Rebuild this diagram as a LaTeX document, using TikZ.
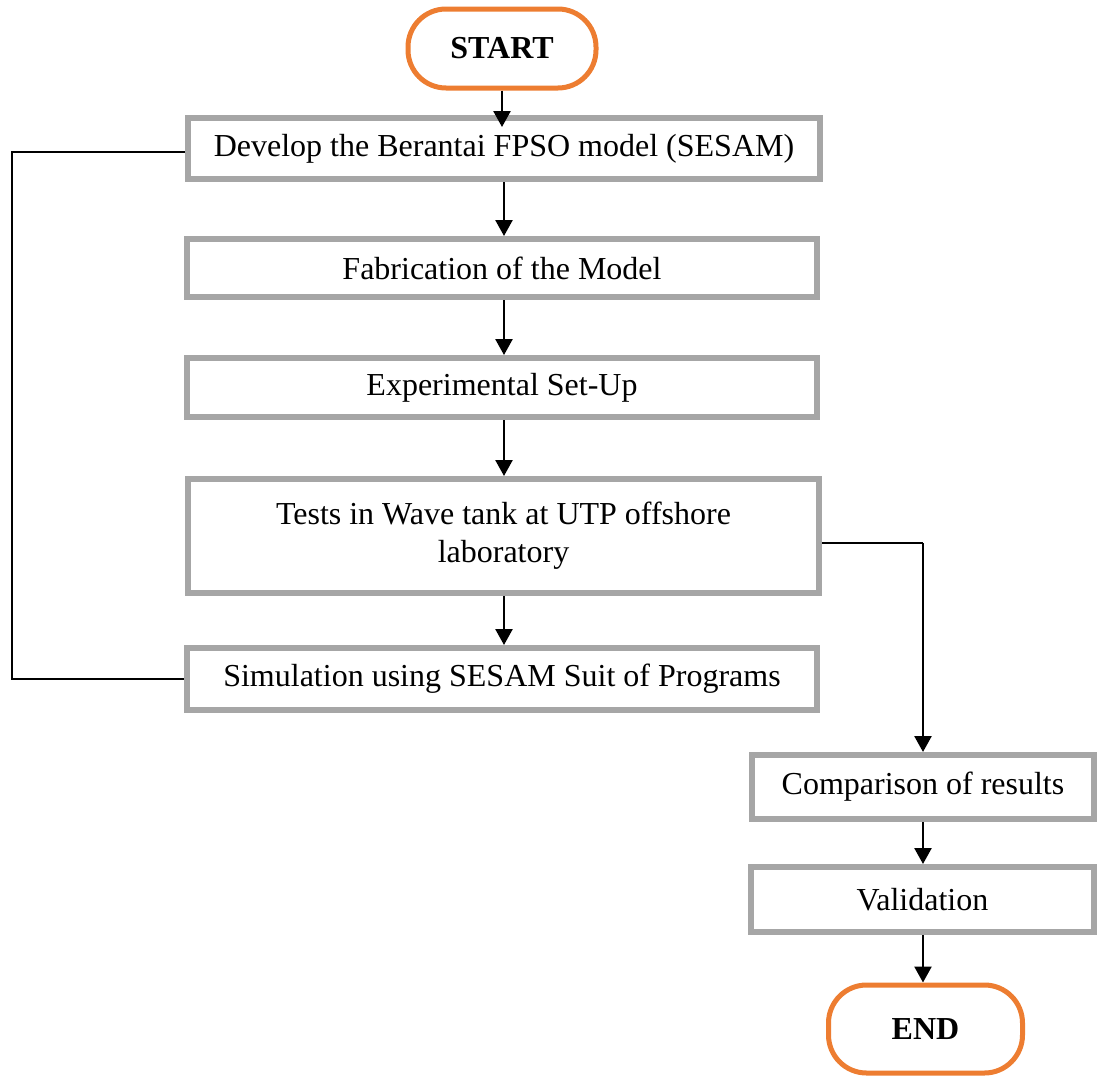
\documentclass[tikz,border=0pt]{standalone}
\usepackage{fontspec}
\setmainfont{Liberation Serif}
\usetikzlibrary{arrows.meta}
\definecolor{termorange}{HTML}{ED7D31}
\definecolor{boxgray}{HTML}{A6A6A6}
\begin{document}
\begin{tikzpicture}[x=0.5pt,y=-0.5pt,
  every node/.style={font=\fontsize{16pt}{19pt}\selectfont, align=center, inner sep=0pt},
  procbox/.style={draw=boxgray, line width=3pt, fill=white, rectangle},
  terminal/.style={draw=termorange, line width=2.5pt, fill=white, rectangle,
    rounded corners=19pt, font=\fontsize{16pt}{19pt}\selectfont\bfseries},
  flow/.style={draw=black, line width=1.25pt, -{Triangle[width=8.5pt,length=8pt]}},
  link/.style={draw=black, line width=0.75pt}]
\useasboundingbox (0,0) rectangle (1098,1076);

% main column
\node[terminal, minimum width=94pt, minimum height=39.5pt] (start) at (502,48.5) {START};
\node[procbox, minimum width=316pt, minimum height=30.5pt] (b1) at (504,148.5)
  {Develop the Berantai FPSO model (SESAM)};
\node[procbox, minimum width=315pt, minimum height=29pt] (b2) at (502,268)
  {Fabrication of the Model};
\node[procbox, minimum width=315pt, minimum height=29.5pt] (b3) at (502,387.5)
  {Experimental Set-Up};
\node[procbox, minimum width=315.5pt, minimum height=57pt] (b4) at (503.5,536)
  {Tests in Wave tank at UTP offshore\\laboratory};
\node[procbox, minimum width=315pt, minimum height=31pt] (b5) at (502,679)
  {Simulation using SESAM Suit of Programs};

% right column
\node[procbox, minimum width=171pt, minimum height=32pt] (b6) at (923,787)
  {Comparison of results};
\node[procbox, minimum width=171.5pt, minimum height=32.5pt] (b7) at (922.5,899.5)
  {Validation};
\node[terminal, minimum width=97pt, minimum height=44pt] (end) at (925.5,1029) {END};

% vertical flow
\draw[flow, shorten >=-6pt] (start.south) -- (start.south |- b1.north);
\draw[flow] (b1.south) -- (b1.south |- b2.north);
\draw[flow] (b1.south |- b2.south) -- (b1.south |- b3.north);
\draw[flow] (b1.south |- b3.south) -- (b1.south |- b4.north);
\draw[flow] (b1.south |- b4.south) -- (b1.south |- b5.north);

% branch to comparison
\coordinate (turn) at ([yshift=-3.5pt]b4.east -| b6.north);
\draw[link] ([yshift=-3.5pt]b4.east) -- (turn);
\draw[flow] (turn) -- (b6.north);
\draw[flow] (b6.south) -- (b6.south |- b7.north);
\draw[flow] (b6.south |- b7.south) -- (b6.south |- end.north);

% feedback loop on the left
\coordinate (loopTop) at (12,152);
\coordinate (loopBot) at (12,679);
\draw[link] ([yshift=-1.75pt]b1.west) -- (loopTop) -- (loopBot) -- (b5.west);
\end{tikzpicture}
\end{document}
